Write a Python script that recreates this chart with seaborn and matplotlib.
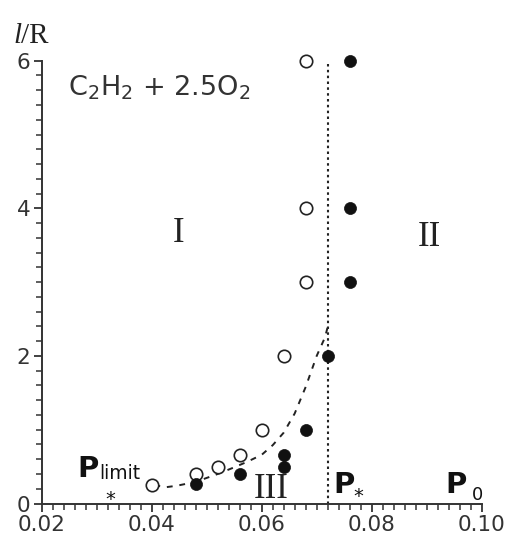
import matplotlib
matplotlib.use("Agg")
import matplotlib.pyplot as plt
import seaborn as sns
import pandas as pd
import numpy as np

# ---- data ----
open_x = [0.040, 0.048, 0.052, 0.056, 0.060, 0.064, 0.068, 0.068, 0.068]
open_y = [0.25, 0.40, 0.50, 0.66, 1.00, 2.00, 3.00, 4.00, 6.00]
filled_x = [0.048, 0.056, 0.064, 0.064, 0.068, 0.072, 0.076, 0.076, 0.076]
filled_y = [0.26, 0.40, 0.50, 0.66, 1.00, 2.00, 3.00, 4.00, 6.00]
curve_x = [0.0405, 0.0425, 0.0445, 0.0465, 0.049, 0.052, 0.055, 0.0575, 0.060,
           0.062, 0.064, 0.066, 0.068, 0.070, 0.0715, 0.0722]
curve_y = [0.25, 0.22, 0.24, 0.27, 0.32, 0.40, 0.49, 0.57, 0.66,
           0.79, 0.96, 1.22, 1.58, 2.00, 2.25, 2.45]
p_star = 0.072
p_star_top = 5.95
x_ticks = [0.02, 0.04, 0.06, 0.08, 0.10]
x_ticklabels = ["0.02", "0.04", "0.06", "0.08", "0.10"]
y_ticks = [0, 2, 4, 6]
y_ticklabels = ["0", "2", "4", "6"]

sns.set_style("ticks")
plt.rcParams["font.family"] = ["DejaVu Sans"]

W, H = 505, 541
fig = plt.figure(figsize=(W / 100, H / 100), dpi=100)
ax = fig.add_axes([41.7 / W, 1 - 503.5 / H, 440 / W, 442.8 / H])

df_open = pd.DataFrame({"x": open_x, "y": open_y})
df_fill = pd.DataFrame({"x": filled_x, "y": filled_y})
df_curve = pd.DataFrame({"x": curve_x, "y": curve_y})

sns.lineplot(data=df_curve, x="x", y="y", sort=False, ax=ax, color="#222222",
             lw=1.4, dashes=False, estimator=None)
ax.lines[-1].set_dashes([3, 3.5])
ax.plot([p_star, p_star], [0, p_star_top], color="#222222", lw=1.5,
        linestyle=(0, (1.2, 1.6)))
sns.scatterplot(data=df_open, x="x", y="y", ax=ax, marker="o", s=80,
                facecolor="white", edgecolor="#222222", linewidth=1.2,
                clip_on=False, zorder=5)
sns.scatterplot(data=df_fill, x="x", y="y", ax=ax, marker="o", s=75,
                color="#111111", edgecolor="#111111", linewidth=0.5,
                clip_on=False, zorder=5)

ax.set_xlim(0.02, 0.10)
ax.set_ylim(0, 6)
ax.set_xlabel("")
ax.set_ylabel("")
ax.set_xticks(x_ticks)
ax.set_xticklabels(x_ticklabels)
ax.set_yticks(y_ticks)
ax.set_yticklabels(y_ticklabels)
ax.set_xticks(np.arange(0.02, 0.1001, 0.002), minor=True)
ax.set_yticks(np.arange(0, 6.001, 0.2), minor=True)
ax.tick_params(axis="both", which="major", length=6, width=1.3,
               color="#333333", labelsize=15.5, labelcolor="#333333", pad=2)
ax.tick_params(axis="both", which="minor", length=4, width=1.1,
               color="#333333")
sns.despine(ax=ax)
for sp in ["left", "bottom"]:
    ax.spines[sp].set_color("#333333")
    ax.spines[sp].set_linewidth(1.4)

# y label l/R
fig.text(13 / W, 1 - 43 / H, "l", family="Liberation Serif", style="italic",
         fontsize=21, color="#222222", va="baseline")
fig.text(21 / W, 1 - 43 / H, "/R", family="Liberation Serif",
         fontsize=21, color="#222222", va="baseline")

# annotations
ax.text(0.0248, 5.63, r"C$_2$H$_2$ + 2.5O$_2$", fontsize=19.5,
        color="#333333", va="center", ha="left")
serif = dict(family="Liberation Serif", fontsize=25, color="#222222",
             ha="center", va="center")
ax.text(0.04496, 3.66, "I", **serif)
ax.text(0.0904, 3.61, "II", **serif)
ax.text(0.0617, 0.19, "III", **serif)

pfont = dict(fontsize=21, fontweight="bold", color="#111111",
             va="baseline", ha="left")
ax.text(0.02642, 0.36, "P", **pfont)
ax.text(0.0305, 0.33, "limit", fontsize=13.5, color="#111111",
        va="baseline", ha="left")
ax.text(0.0324, 0.05, "*", fontsize=14, color="#111111",
        va="center", ha="center")
ax.text(0.07302, 0.142, "P", **pfont)
ax.text(0.0776, 0.10, "*", fontsize=14, color="#111111",
        va="center", ha="center")
ax.text(0.09333, 0.142, "P", **pfont)
ax.text(0.0982, 0.05, "0", fontsize=13, color="#111111",
        va="baseline", ha="left")

fig.savefig("out.png", dpi=100)
